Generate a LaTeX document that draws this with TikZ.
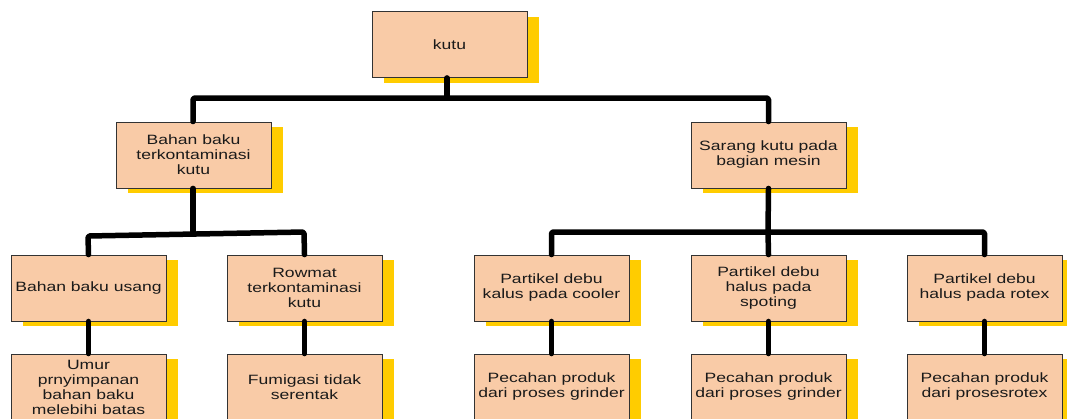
\documentclass[tikz,border=0pt]{standalone}
\usepackage{fontspec}
\setmainfont{Liberation Sans}[FakeStretch=1.3]
\usetikzlibrary{shadows}
\definecolor{boxfill}{HTML}{F9CBA7}
\definecolor{shadowyellow}{HTML}{FFCC00}
\definecolor{boxline}{HTML}{333333}
\definecolor{txt}{HTML}{1A1A1A}
\tikzset{
  cbox/.style={draw=boxline, line width=0.9pt, fill=boxfill, text=txt,
    minimum width=155pt, minimum height=66pt, inner sep=0pt, align=center,
    font=\fontsize{13.5}{15}\selectfont,
    drop shadow={shadow xshift=12pt, shadow yshift=-5pt, fill=shadowyellow, opacity=1}},
  link/.style={line width=5.5pt, line cap=round, line join=round, rounded corners=1.5pt, black}
}
\begin{document}
\begin{tikzpicture}[x=1pt,y=-1pt]
\useasboundingbox (0,0) rectangle (1067,418);
\clip (0,0) rectangle (1067,418);
\fill[white] (0,0) rectangle (1067,418);
\coordinate (j1) at (447,98);
\coordinate (j2a) at (88,236);
\coordinate (j2) at (193,234);
\coordinate (j2b) at (304,232);
\coordinate (j3) at (768,232);
% nodes
\node[cbox] (k)  at (449.5,44.5) {kutu};
\node[cbox] (b1) at (193.5,155) {Bahan baku\\terkontaminasi\\kutu};
\node[cbox] (b2) at (768.5,155) {Sarang kutu pada\\bagian mesin};
\node[cbox] (c1) at (88.5,288) {Bahan baku usang};
\node[cbox] (c2) at (304.5,288) {Rowmat\\terkontaminasi\\kutu};
\node[cbox] (c3) at (551.5,288) {Partikel debu\\kalus pada cooler};
\node[cbox] (c4) at (768.5,288) {Partikel debu\\halus pada\\spoting};
\node[cbox] (c5) at (984.5,288) {Partikel debu\\halus pada rotex};
\node[cbox] (d1) at (88.5,387) {Umur\\prnyimpanan\\bahan baku\\melebihi batas};
\node[cbox] (d2) at (304.5,387) {Fumigasi tidak\\serentak};
\node[cbox] (d3) at (551.5,387) {Pecahan produk\\dari proses grinder};
\node[cbox] (d4) at (768.5,387) {Pecahan produk\\dari proses grinder};
\node[cbox] (d5) at (984.5,387) {Pecahan produk\\dari prosesrotex};
% links
\draw[link] (k.south -| j1) -- (j1);
\draw[link] (b1.north -| j2) |- (j1) -| (b2.north);
\draw[link] (b1.south -| j2) -- (j2);
\draw[link] (c1.north) -- (j2a) -- (j2b) -- (c2.north);
\draw[link] (b2.south) -- (j3);
\draw[link] (c3.north) |- (j3) -| (c5.north);
\draw[link] (j3) -- (c4.north);
\draw[link] (c1.south) -- (d1.north);
\draw[link] (c2.south) -- (d2.north);
\draw[link] (c3.south) -- (d3.north);
\draw[link] (c4.south) -- (d4.north);
\draw[link] (c5.south) -- (d5.north);
\end{tikzpicture}
\end{document}
